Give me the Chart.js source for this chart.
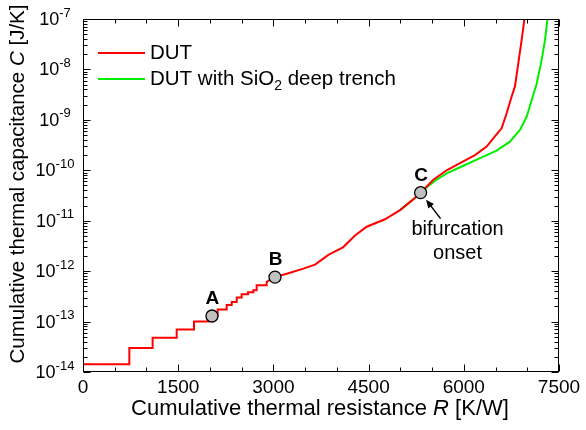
<!DOCTYPE html>
<html><head><meta charset="utf-8">
<script src="https://cdn.jsdelivr.net/npm/chart.js@4/dist/chart.umd.min.js"></script>
<style>html,body{margin:0;padding:0;background:#fff}#wrap{width:586px;height:430px}</style>
</head><body><div id="wrap"><canvas id="c" width="586" height="430"></canvas></div>
<script>
// Data
const seriesNames = ['DUT', 'DUT with SiO2 deep trench'];
const dutR = [0,730,730,1097,1097,1476,1476,1749,1749,1975,1975,2122,2122,2264,2264,2343,2343,2422,2422,2500,2500,2600,2600,2684,2684,2736,2736,2894,2894,3025,3262,3472,3656,3866,4102,4286,4470,4758,4995,5179,5319,5520,5730,5940,6176,6360,6490,6596,6675,6754,6806,6858,6911,6953,6965];
const dutC = [1.43e-14,1.43e-14,3e-14,3e-14,4.8e-14,4.8e-14,7e-14,7e-14,1.0e-13,1.0e-13,1.3e-13,1.3e-13,1.74e-13,1.74e-13,2.14e-13,2.14e-13,2.45e-13,2.45e-13,3.0e-13,3.0e-13,3.47e-13,3.47e-13,3.8e-13,3.8e-13,4.17e-13,4.17e-13,5.25e-13,5.25e-13,6.17e-13,7.6e-13,9.3e-13,1.12e-12,1.35e-12,2.1e-12,3.0e-12,5.1e-12,7.6e-12,1.07e-11,1.62e-11,2.5e-11,3.6e-11,6.5e-11,1.0e-10,1.38e-10,2.0e-10,2.95e-10,4.7e-10,6.8e-10,1.35e-9,2.9e-9,4.6e-9,1.3e-8,3.8e-8,9.5e-8,1.26e-7];
const trenchR = [4995,5179,5319,5450,5572,5730,5992,6255,6517,6727,6885,6990,7069,7148,7227,7279,7316,7330];
const trenchC = [1.62e-11,2.5e-11,3.6e-11,5e-11,6.5e-11,8.7e-11,1.23e-10,1.74e-10,2.45e-10,3.7e-10,6.3e-10,1.15e-9,2.45e-9,5.2e-9,1.55e-8,3.8e-8,9.5e-8,1.26e-7];
const markerLabels = ['A','B','C'];
const markerR = [2032, 3025, 5319];
const markerC = [1.29e-13, 7.6e-13, 3.6e-11];
const xTickValues = [0,1500,3000,4500,6000,7500];
const xMinorStep = 500;
const yTickExponents = [-14,-13,-12,-11,-10,-9,-8,-7];

const zip = (xs, ys) => xs.map((v,i)=>({x:v, y:ys[i]}));
const FONT = "'Liberation Sans', Arial, sans-serif";

const overlay = {
  id: 'overlay',
  afterDraw(chart) {
    const {ctx, chartArea: a, scales: {x, y}} = chart;
    ctx.save();
    ctx.strokeStyle = '#000'; ctx.lineWidth = 1; ctx.fillStyle = '#000';
    const L = (x1,y1,x2,y2)=>{ctx.beginPath();ctx.moveTo(x1,y1);ctx.lineTo(x2,y2);ctx.stroke();};
    const left = Math.round(a.left)+0.5, right = Math.round(a.right)-0.5, top = Math.round(a.top)+0.5, bottom = Math.round(a.bottom)-0.5;
    ctx.strokeRect(left, top, right-left, bottom-top);
    // x ticks (inward, top and bottom)
    const xmax = xTickValues[xTickValues.length-1];
    for (let v = xTickValues[0]; v <= xmax; v += xMinorStep) {
      const px = Math.round(x.getPixelForValue(v)) + 0.5;
      const major = xTickValues.includes(v);
      const len = major ? 7 : 4;
      L(px, bottom, px, bottom-len); L(px, top, px, top+len);
    }
    // y ticks (inward, left and right)
    for (let k = 0; k < yTickExponents.length; k++) {
      const e = yTickExponents[k];
      for (let m = 1; m <= 9; m++) {
        if (m > 1 && k === yTickExponents.length-1) break;
        const py = Math.round(y.getPixelForValue(m*Math.pow(10,e))) + 0.5;
        const len = m === 1 ? 7 : 4;
        L(left, py, left+len, py); L(right, py, right-len, py);
      }
    }
    // x tick labels
    ctx.font = `19px ${FONT}`; ctx.textAlign = 'center'; ctx.textBaseline = 'middle';
    xTickValues.forEach(v => ctx.fillText(String(v), x.getPixelForValue(v), bottom + 16));
    // y tick labels 10^e, centred
    yTickExponents.forEach(e => {
      const py = y.getPixelForValue(Math.pow(10,e));
      const ex = '-' + Math.abs(e);
      ctx.font = `13px ${FONT}`;
      const ew = ctx.measureText(ex).width;
      ctx.font = `18px ${FONT}`;
      const bw = ctx.measureText('10').width;
      const x0 = 55 - (bw + ew) / 2;
      ctx.textAlign = 'left'; ctx.textBaseline = 'middle';
      ctx.fillText('10', x0, py + 1);
      ctx.font = `13px ${FONT}`;
      ctx.fillText(ex, x0 + bw, py - 6);
    });
    // axis titles with italic symbols
    const drawParts = (parts, cx, cy) => {
      let w = 0;
      parts.forEach(p => { ctx.font = p[1]; w += ctx.measureText(p[0]).width; });
      let xx = cx - w/2;
      ctx.textAlign = 'left'; ctx.textBaseline = 'middle';
      parts.forEach(p => { ctx.font = p[1]; ctx.fillText(p[0], xx, cy); xx += ctx.measureText(p[0]).width; });
    };
    const n = `22px ${FONT}`, it = `italic 22px ${FONT}`;
    drawParts([['Cumulative thermal resistance ', n], ['R', it], [' [K/W]', n]], 320, 409);
    const ny = `20.5px ${FONT}`, ity = `italic 20.5px ${FONT}`;
    ctx.save(); ctx.translate(18, 184); ctx.rotate(-Math.PI/2);
    drawParts([['Cumulative thermal capacitance ', ny], ['C', ity], [' [J/K]', ny]], 0, 0);
    ctx.restore();
    // legend
    const legY = [53, 79], legColors = ['#ff0000', '#00ee00'];
    legY.forEach((ly, i) => {
      ctx.strokeStyle = legColors[i]; ctx.lineWidth = 2; L(98, ly, 145, ly);
    });
    ctx.font = `20.5px ${FONT}`; ctx.textAlign = 'left'; ctx.textBaseline = 'middle';
    ctx.fillText(seriesNames[0], 150, legY[0]);
    let t1 = 'DUT with SiO', xx = 150;
    ctx.fillText(t1, xx, legY[1]); xx += ctx.measureText(t1).width;
    ctx.font = `14px ${FONT}`; ctx.fillText('2', xx, legY[1] + 7); xx += ctx.measureText('2').width;
    ctx.font = `20.5px ${FONT}`; ctx.fillText(' deep trench', xx, legY[1]);
    // marker labels
    ctx.font = `bold 19px ${FONT}`; ctx.textAlign = 'center'; ctx.textBaseline = 'middle';
    markerLabels.forEach((lab, i) => {
      ctx.fillText(lab, x.getPixelForValue(markerR[i]) + 0.5, y.getPixelForValue(markerC[i]) - 17);
    });
    // bifurcation annotation
    const cx = x.getPixelForValue(markerR[2]), cy = y.getPixelForValue(markerC[2]);
    ctx.font = `20px ${FONT}`;
    ctx.fillText('bifurcation', cx + 37, cy + 37);
    ctx.fillText('onset', cx + 37, cy + 61);
    ctx.strokeStyle = '#000'; ctx.lineWidth = 1.5;
    const tx = cx + 5.5, ty = cy + 7, sx = cx + 20, sy = cy + 26;
    L(sx, sy, tx + 3, ty + 4);
    const ang = Math.atan2(ty - sy, tx - sx);
    ctx.beginPath(); ctx.moveTo(tx, ty);
    ctx.lineTo(tx - 9*Math.cos(ang - 0.4), ty - 9*Math.sin(ang - 0.4));
    ctx.lineTo(tx - 9*Math.cos(ang + 0.4), ty - 9*Math.sin(ang + 0.4));
    ctx.closePath(); ctx.fill();
    ctx.restore();
  }
};

new Chart(document.getElementById('c'), {
  type: 'line',
  data: {
    datasets: [
      { label: 'markers', data: zip(markerR, markerC), showLine: false, pointRadius: 6, pointBackgroundColor: '#c0c0c0', pointBorderColor: '#000', pointBorderWidth: 1.3 },
      { label: seriesNames[0], data: zip(dutR, dutC), borderColor: '#ff0000', borderWidth: 2, pointRadius: 0, tension: 0 },
      { label: seriesNames[1], data: zip(trenchR, trenchC), borderColor: '#00ee00', borderWidth: 2, pointRadius: 0, tension: 0 }
    ]
  },
  options: {
    responsive: false, animation: false,
    layout: { padding: { left: 83, right: 27, top: 19, bottom: 58 } },
    plugins: { legend: { display: false }, tooltip: { enabled: false } },
    scales: {
      x: { type: 'linear', min: 0, max: 7500, grid: { display: false, drawTicks: false }, ticks: { display: false }, border: { display: false } },
      y: { type: 'logarithmic', min: 1e-14, max: 1e-7, grid: { display: false, drawTicks: false }, ticks: { display: false }, border: { display: false } }
    }
  },
  plugins: [overlay]
});
</script></body></html>
